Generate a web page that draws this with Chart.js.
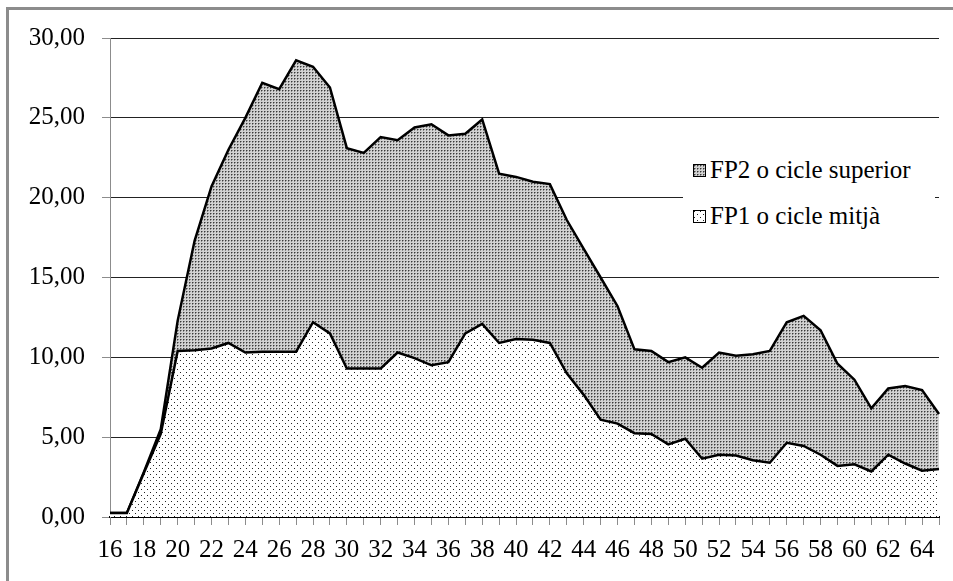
<!DOCTYPE html>
<html>
<head>
<meta charset="utf-8">
<script src="https://cdn.jsdelivr.net/npm/chart.js@4.4.0/dist/chart.umd.min.js"></script>
<style>
  body { margin: 0; background: #fff; }
  #wrap { position: relative; width: 953px; height: 581px; overflow: hidden; }
  #frame { position: absolute; left: 6px; top: 7px; width: 1000px; height: 700px;
    border-left: 3px solid #8c8c8c; border-top: 3px solid #8c8c8c; }
  #myChart { position: absolute; left: 0; top: 0; }
  #legend { position: absolute; left: 683px; top: 148px; width: 252px; height: 88px;
    background: #fff; font-family: "Liberation Serif", "DejaVu Serif", serif; font-size: 25px; color: #000; }
  .row { position: absolute; left: 10px; height: 30px; line-height: 30px; white-space: nowrap; }
  .sw { display: inline-block; width: 11px; height: 11px; border: 1.5px solid #000; margin-right: 4px; vertical-align: 1px; }
</style>
</head>
<body>
<div id="wrap">
  <div id="frame"></div>
  <canvas id="myChart" width="953" height="581"></canvas>
  <div id="legend"></div>
</div>
<script>
const ages = [16,17,18,19,20,21,22,23,24,25,26,27,28,29,30,31,32,33,34,35,36,37,38,39,40,
  41,42,43,44,45,46,47,48,49,50,51,52,53,54,55,56,57,58,59,60,61,62,63,64,65];
// FP1 o cicle mitja (bottom layer)
const fp1 = [0.25,0.25,2.75,5.2,10.4,10.45,10.55,10.9,10.3,10.35,10.35,10.35,12.2,11.5,9.3,9.3,9.3,10.3,9.95,9.5,
  9.7,11.5,12.1,10.9,11.15,11.1,10.9,9.0,7.65,6.1,5.85,5.25,5.2,4.55,4.9,3.65,3.9,3.85,3.55,3.4,
  4.65,4.45,3.9,3.2,3.3,2.85,3.9,3.35,2.9,3.0];
// FP2 o cicle superior (stacked on top)
const fp2 = [0,0,0.05,0.3,1.9,6.85,10.15,12.1,14.7,16.85,16.45,18.25,16.0,15.4,13.8,13.5,14.5,13.3,14.45,15.1,
  14.2,12.5,12.8,10.6,10.15,9.9,9.95,9.6,9.15,8.9,7.35,5.25,5.2,5.15,5.1,5.7,6.4,6.25,6.65,7.0,
  7.55,8.15,7.8,6.4,5.3,3.95,4.15,4.85,5.05,3.45];
const seriesNames = ["FP1 o cicle mitjà", "FP2 o cicle superior"];
const yTicks = [0,5,10,15,20,25,30];

const ctx = document.getElementById("myChart").getContext("2d");

// patterned fills
function makeTile(size, draw) {
  const c = document.createElement("canvas");
  c.width = size; c.height = size;
  draw(c.getContext("2d"));
  return c;
}
const tileFp2 = makeTile(3, (g) => {
  g.fillStyle = "#d2d2d2"; g.fillRect(0, 0, 3, 3);
  g.fillStyle = "#8a8a8a"; g.fillRect(1, 0, 1, 1); g.fillRect(0, 1, 1, 1);
  g.fillStyle = "#3a3a3a"; g.fillRect(0, 0, 1, 1);
});
const tileFp1 = makeTile(6, (g) => {
  g.fillStyle = "#ffffff"; g.fillRect(0, 0, 6, 6);
  g.fillStyle = "#222"; g.fillRect(0, 0, 1, 1); g.fillRect(3, 3, 1, 1);
});
const patFp2 = ctx.createPattern(tileFp2, "repeat");
const patFp1 = ctx.createPattern(tileFp1, "repeat");

const fontFamily = '"Liberation Serif", "DejaVu Serif", serif';

const chart = new Chart(ctx, {
  type: "line",
  data: {
    labels: ages,
    datasets: [{
      label: seriesNames[0],
      data: fp1,
      fill: "origin",
      backgroundColor: patFp1,
      borderColor: "#000",
      borderWidth: 2.5,
      pointRadius: 0,
      tension: 0
    }, {
      label: seriesNames[1],
      data: fp2,
      fill: "-1",
      backgroundColor: patFp2,
      borderColor: "#000",
      borderWidth: 2.5,
      pointRadius: 0,
      tension: 0
    }]
  },
  options: {
    responsive: false,
    animation: false,
    layout: { padding: { top: 38, right: 14, bottom: 0, left: 0 } },
    plugins: { legend: { display: false }, tooltip: { enabled: false } },
    scales: {
      x: {
        offset: false,
        grid: { drawOnChartArea: false, drawTicks: true, tickLength: 8, tickColor: "#8c8c8c", tickWidth: 1 },
        border: { color: "#000", width: 2 },
        ticks: {
          autoSkip: false, maxRotation: 0, minRotation: 0, padding: 10,
          color: "#000", font: { family: fontFamily, size: 25 },
          callback: function (v, i) { return ages[i] % 2 === 0 ? String(ages[i]) : ""; }
        },
        afterFit: (s) => { s.height = 64; }
      },
      y: {
        stacked: true,
        min: 0, max: 30,
        afterBuildTicks: (s) => { s.ticks = yTicks.map(v => ({ value: v })); },
        grid: { color: "#222", lineWidth: 1, borderDash: [2, 2], tickLength: 8, tickColor: "#8c8c8c", tickBorderDash: [] },
        border: { color: "#8c8c8c", width: 1 },
        ticks: {
          padding: 17, color: "#000", font: { family: fontFamily, size: 25 },
          callback: (v) => Number(v).toFixed(2).replace(".", ",")
        },
        afterFit: (s) => { s.width = 110; }
      }
    }
  }
});

// legend inside the plot, FP2 first like the original
const legendDiv = document.getElementById("legend");
const legendItems = [
  { name: seriesNames[1], tile: tileFp2, top: 7 },
  { name: seriesNames[0], tile: tileFp1, top: 53 }
];
legendItems.forEach(item => {
  const row = document.createElement("div");
  row.className = "row";
  row.style.top = item.top + "px";
  const sw = document.createElement("span");
  sw.className = "sw";
  sw.style.backgroundImage = "url(" + item.tile.toDataURL() + ")";
  row.appendChild(sw);
  row.appendChild(document.createTextNode(item.name));
  legendDiv.appendChild(row);
});
</script>
</body>
</html>
